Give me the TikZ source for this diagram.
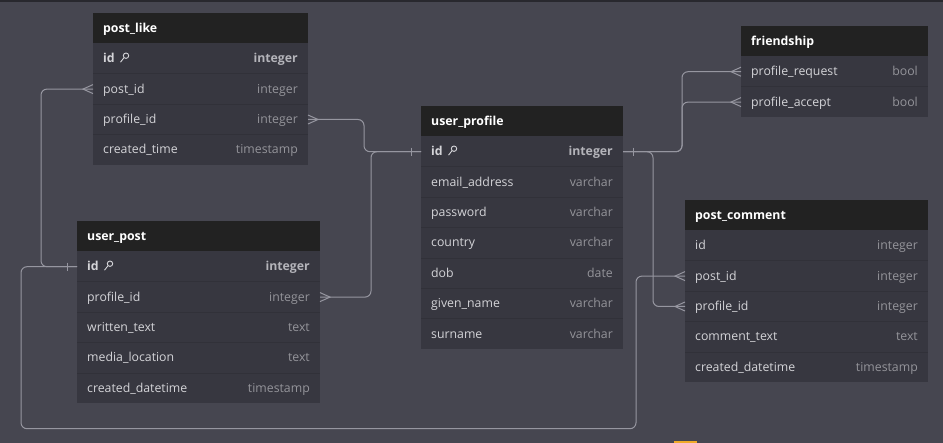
\documentclass[tikz,border=0pt]{standalone}
\usepackage{fontspec}
\setmainfont{Open Sans}
\usetikzlibrary{positioning}

\definecolor{bgc}{RGB}{70,70,80}
\definecolor{topc}{RGB}{40,40,46}
\definecolor{hdrc}{RGB}{34,34,34}
\definecolor{rowc}{RGB}{55,55,64}
\definecolor{sepc}{RGB}{49,49,57}
\definecolor{linec}{RGB}{150,150,160}
\definecolor{fldc}{RGB}{212,212,216}
\definecolor{typc}{RGB}{148,148,154}
\definecolor{keyc}{RGB}{180,180,186}
\definecolor{orc}{RGB}{240,170,40}

\tikzset{
  hdr/.style={fill=hdrc, minimum height=30.5pt, inner sep=0pt, outer sep=0pt},
  fld/.style={fill=rowc, minimum height=30.4pt, inner sep=0pt, outer sep=0pt},
  ttl/.style={font=\fontsize{12.3pt}{14pt}\selectfont\bfseries, text=white, inner sep=0pt},
  fldtxt/.style={font=\fontsize{12.3pt}{14pt}\selectfont, text=fldc, inner sep=0pt},
  typtxt/.style={font=\fontsize{12.3pt}{14pt}\selectfont, text=typc, inner sep=0pt},
  sep/.style={draw=sepc, line width=0.8pt},
  rel/.style={draw=linec, line width=1pt, rounded corners=6pt},
  tip/.style={draw=linec, line width=1pt},
  keyst/.style={draw=fldc, line width=0.9pt},
}

% one table: name, x, y (top left), width, title, rows
\newcommand{\ertable}[6]{%
  \node[hdr, minimum width=#4pt, anchor=north west] (#1-0) at (#2,#3) {};
  \node[ttl, anchor=base west] at ([shift={(10,4)}]#1-0.west) {#5};
  \foreach \f/\t [count=\i, remember=\i as \j (initially 0)] in {#6} {
    \node[fld, minimum width=#4pt, below=0pt of #1-\j] (#1-\i) {};
    \node[fldtxt, anchor=base west] at ([shift={(10,4)}]#1-\i.west) {\f};
    \node[typtxt, anchor=base east] at ([shift={(-10,4)}]#1-\i.east) {\t};
    \ifnum\i>1 \draw[sep] (#1-\i.north west) -- (#1-\i.north east); \fi
  }
}
% key icon behind "id"
\newcommand{\keyat}[1]{%
  \draw[keyst] ([shift={(33,-3)}]#1.west) circle (2.7pt);
  \draw[keyst] ([shift={(31,-1)}]#1.west) -- ([shift={(27.5,3.5)}]#1.west);
}
% crow foot (many) and bar (one)
\newcommand{\manyW}[1]{\draw[tip] ([shift={(0,-4.5)}]#1.west) -- ([shift={(-10,0)}]#1.west) -- ([shift={(0,4.5)}]#1.west);}
\newcommand{\manyE}[1]{\draw[tip] ([shift={(0,-4.5)}]#1.east) -- ([shift={(10,0)}]#1.east) -- ([shift={(0,4.5)}]#1.east);}
\newcommand{\oneW}[1]{\draw[tip] ([shift={(-10,-4)}]#1.west) -- ([shift={(-10,4)}]#1.west);}
\newcommand{\oneE}[1]{\draw[tip] ([shift={(10,-4)}]#1.east) -- ([shift={(10,4)}]#1.east);}
\newcommand{\pktype}{{\color{keyc}\bfseries integer}}

\begin{document}
\begin{tikzpicture}[x=1pt, y=-1pt]
    % canvas
    \fill[bgc] (0,0) rectangle (943,443);
    \useasboundingbox (0,0) rectangle (943,443);
    \fill[topc] (0,0) rectangle (943,2);
    \fill[orc] (674,441.3) rectangle (697,443);

    % tables
    \ertable{like}{93}{13}{215}{post\_like}{%
      \textbf{id}/\pktype, post\_id/integer, profile\_id/integer, created\_time/timestamp}
    \ertable{prof}{421}{106}{202}{user\_profile}{%
      \textbf{id}/\pktype, email\_address/varchar, password/varchar, country/varchar,
      dob/date, given\_name/varchar, surname/varchar}
    \ertable{frnd}{741}{26}{187}{friendship}{%
      profile\_request/bool, profile\_accept/bool}
    \ertable{post}{77}{221}{243}{user\_post}{%
      \textbf{id}/\pktype, profile\_id/integer, written\_text/text,
      media\_location/text, created\_datetime/timestamp}
    \ertable{comm}{685}{200}{243}{post\_comment}{%
      id/integer, post\_id/integer, profile\_id/integer,
      comment\_text/text, created\_datetime/timestamp}
    \keyat{like-1}
    \keyat{prof-1}
    \keyat{post-1}

    % relations
    \draw[rel] (like-2.west) -- ++(-52,0) |- (post-1.west);
    \draw[rel] (like-3.east) -- ++(56,0) |- (prof-1.west);
    \draw[rel] (post-2.east) -- ++(51,0) |- (prof-1.west);
    \draw[rel] (prof-1.east) -- ++(59,0) |- (frnd-1.west);
    \draw[rel] (prof-1.east) -- ++(59,0) |- (frnd-2.west);
    \draw[rel] (prof-1.east) -- ++(30,0) |- (comm-3.west);
    \draw[rel] (post-1.west) -- ++(-56,0) -- ++(0,162) -| ([xshift=-49pt]comm-2.west) -- (comm-2.west);

    % ends
    \manyW{like-2}
    \manyE{like-3}
    \manyE{post-2}
    \manyW{frnd-1}
    \manyW{frnd-2}
    \manyW{comm-2}
    \manyW{comm-3}
    \oneW{post-1}
    \oneW{prof-1}
    \oneE{prof-1}
\end{tikzpicture}
\end{document}
